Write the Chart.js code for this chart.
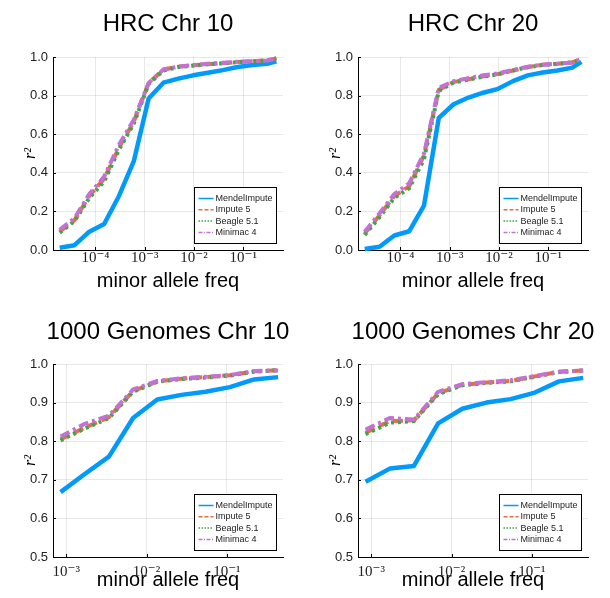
<!DOCTYPE html>
<html><head><meta charset="utf-8">
<script src="https://cdn.jsdelivr.net/npm/chart.js@4/dist/chart.umd.min.js"></script>
<style>
html,body{margin:0;padding:0;background:#fff;overflow:hidden;width:610px;height:598px;}
canvas{position:absolute;}
</style></head>
<body>
<canvas id="c1" width="305" height="299" style="left:0;top:0"></canvas>
<canvas id="c2" width="305" height="299" style="left:305px;top:0"></canvas>
<canvas id="c3" width="305" height="299" style="left:0;top:299px"></canvas>
<canvas id="c4" width="305" height="299" style="left:305px;top:299px"></canvas>
<script>
// ---------- data ----------
const seriesNames = ['MendelImpute', 'Impute 5', 'Beagle 5.1', 'Minimac 4'];
const panelTitles = ['HRC Chr 10', 'HRC Chr 20', '1000 Genomes Chr 10', '1000 Genomes Chr 20'];
const xLabel = 'minor allele freq';
const yLabel = 'r²';

const hrcMaf = [1.88e-5, 3.76e-5, 7.5e-5, 1.5e-4, 3.0e-4, 6.0e-4, 1.2e-3, 2.4e-3, 4.8e-3, 9.6e-3, 0.0192, 0.0384, 0.0768, 0.154, 0.307, 0.47];
const kgMaf = [8.5e-4, 1.7e-3, 3.4e-3, 6.8e-3, 0.0136, 0.0272, 0.0544, 0.109, 0.218, 0.435];

const hrc10Mendel  = [0.012, 0.025, 0.095, 0.135, 0.28, 0.46, 0.785, 0.867, 0.888, 0.905, 0.918, 0.932, 0.948, 0.958, 0.965, 0.978];
const hrc10Impute  = [0.095, 0.155, 0.28, 0.37, 0.53, 0.665, 0.865, 0.935, 0.95, 0.957, 0.963, 0.968, 0.974, 0.978, 0.983, 0.993];
const hrc10Beagle  = [0.09, 0.15, 0.27, 0.355, 0.52, 0.655, 0.86, 0.93, 0.948, 0.955, 0.962, 0.967, 0.973, 0.978, 0.982, 0.993];
const hrc10Minimac = [0.105, 0.165, 0.29, 0.38, 0.545, 0.675, 0.865, 0.935, 0.95, 0.958, 0.965, 0.97, 0.975, 0.978, 0.982, 0.99];

const hrc20Mendel  = [0.005, 0.017, 0.075, 0.097, 0.23, 0.685, 0.755, 0.79, 0.815, 0.835, 0.875, 0.905, 0.92, 0.93, 0.945, 0.975];
const hrc20Impute  = [0.085, 0.18, 0.28, 0.33, 0.49, 0.83, 0.87, 0.885, 0.9, 0.912, 0.93, 0.948, 0.96, 0.965, 0.972, 0.99];
const hrc20Beagle  = [0.078, 0.17, 0.27, 0.32, 0.47, 0.825, 0.868, 0.883, 0.898, 0.91, 0.93, 0.947, 0.958, 0.964, 0.972, 0.985];
const hrc20Minimac = [0.095, 0.19, 0.29, 0.345, 0.5, 0.84, 0.875, 0.89, 0.905, 0.915, 0.933, 0.95, 0.96, 0.965, 0.972, 0.99];

const kg10Mendel  = [0.668, 0.715, 0.76, 0.86, 0.908, 0.92, 0.928, 0.94, 0.96, 0.966];
const kg10Impute  = [0.805, 0.835, 0.862, 0.93, 0.955, 0.962, 0.966, 0.971, 0.981, 0.984];
const kg10Beagle  = [0.802, 0.833, 0.86, 0.928, 0.954, 0.961, 0.965, 0.97, 0.98, 0.984];
const kg10Minimac = [0.812, 0.845, 0.866, 0.934, 0.956, 0.963, 0.967, 0.971, 0.982, 0.983];

const kg20Mendel  = [0.695, 0.729, 0.736, 0.846, 0.884, 0.9, 0.909, 0.926, 0.955, 0.964];
const kg20Impute  = [0.822, 0.852, 0.854, 0.924, 0.946, 0.952, 0.956, 0.968, 0.98, 0.983];
const kg20Beagle  = [0.818, 0.848, 0.852, 0.922, 0.945, 0.951, 0.955, 0.967, 0.979, 0.983];
const kg20Minimac = [0.83, 0.86, 0.856, 0.928, 0.948, 0.953, 0.958, 0.969, 0.98, 0.983];

const hrcTicks = [1e-4, 1e-3, 1e-2, 1e-1];
const hrcTickLabels = ['10⁻⁴', '10⁻³', '10⁻²', '10⁻¹'];
const kgTicks = [1e-3, 1e-2, 1e-1];
const kgTickLabels = ['10⁻³', '10⁻²', '10⁻¹'];

// ---------- styles ----------
const STYLES = [
  {color: '#009AFA', width: 4.5, dash: [], legendDash: []},
  {color: '#E36F47', width: 4, dash: [10, 5], legendDash: [4, 2]},
  {color: '#3EA44E', width: 4, dash: [3, 4], legendDash: [1.5, 1.5]},
  {color: '#C371D2', width: 4, dash: [10, 4, 3, 4], legendDash: [4, 1.5, 1, 1.5]}
];

const legendPlugin = {
  id: 'boxLegend',
  afterDatasetsDraw(chart) {
    const a = chart.chartArea, ctx = chart.ctx;
    const w = 82, h = 56;
    const x0 = Math.round(a.right - 7 - w) + 0.5, y0 = Math.round(a.bottom - 7 - h) + 0.5;
    ctx.save();
    ctx.strokeStyle = '#000'; ctx.lineWidth = 1;
    const xs = chart.scales.x, ys = chart.scales.y;
    xs.ticks.forEach(t => {
      const px = Math.round(xs.getPixelForValue(t.value)) + 0.5;
      ctx.beginPath(); ctx.moveTo(px, a.bottom); ctx.lineTo(px, a.bottom - 3); ctx.stroke();
    });
    ys.ticks.forEach(t => {
      const py = Math.round(ys.getPixelForValue(t.value)) + 0.5;
      ctx.beginPath(); ctx.moveTo(a.left, py); ctx.lineTo(a.left + 3, py); ctx.stroke();
    });
    ctx.fillStyle = '#fff'; ctx.fillRect(x0, y0, w, h);
    ctx.strokeStyle = '#000'; ctx.lineWidth = 1; ctx.strokeRect(x0, y0, w, h);
    ctx.font = '9px "Liberation Sans", Arial, sans-serif';
    ctx.textBaseline = 'middle'; ctx.textAlign = 'left';
    seriesNames.forEach((name, i) => {
      const st = STYLES[i];
      const yy = y0 + 11 + i * 11.3;
      ctx.beginPath(); ctx.strokeStyle = st.color; ctx.lineWidth = 1.5; ctx.setLineDash(st.legendDash);
      ctx.moveTo(x0 + 4, yy); ctx.lineTo(x0 + 19, yy); ctx.stroke();
      ctx.setLineDash([]);
      ctx.fillStyle = '#222';
      ctx.fillText(name, x0 + 21, yy);
    });
    ctx.restore();
  }
};

const titleShift = {
  id: 'titleShift',
  afterLayout(chart) {
    const t = chart.titleBlock;
    if (!t) return;
    const c = (chart.chartArea.left + chart.chartArea.right) / 2;
    t.left = c - 150; t.right = c + 150; t.width = 300;
  }
};

function makeChart(id, title, xs, seriesVals, yMin, yMax, yStep, xMin, xMax, ticks, tickLabels, g) {
  const datasets = seriesVals.map((vals, i) => ({
    label: seriesNames[i],
    data: xs.map((x, j) => ({x: x, y: vals[j]})),
    borderColor: STYLES[i].color,
    backgroundColor: STYLES[i].color,
    borderWidth: STYLES[i].width,
    borderDash: STYLES[i].dash,
    borderCapStyle: 'butt',
    borderJoinStyle: 'round',
    pointRadius: 0,
    tension: 0,
    fill: false,
    clip: false,
    order: 4 - i
  }));
  return new Chart(document.getElementById(id), {
    type: 'line',
    data: {datasets},
    options: {
      responsive: false, animation: false, devicePixelRatio: 1,
      layout: {padding: {left: 0, right: 22, top: 0, bottom: 0}},
      plugins: {
        legend: {display: false},
        tooltip: {enabled: false},
        title: {
          display: true, text: title, color: '#000',
          font: {family: '"Liberation Sans", Arial, sans-serif', size: 24, weight: 'normal'},
          padding: {top: g.tTop, bottom: g.tBottom}
        }
      },
      scales: {
        x: {
          type: 'logarithmic', min: xMin, max: xMax,
          afterBuildTicks: (s) => { s.ticks = ticks.map(v => ({value: v})); },
          afterFit: (s) => { s.height = g.xh; },
          grid: {color: 'rgba(0,0,0,0.09)', lineWidth: 1, drawTicks: false},
          border: {display: true, color: '#000', width: 1},
          ticks: {
            autoSkip: false, maxRotation: 0, padding: g.xPad, color: '#222',
            font: {family: '"Liberation Serif", "DejaVu Serif", serif', size: 15},
            callback: (v, i) => tickLabels[i]
          },
          title: {
            display: true, text: xLabel, color: '#000',
            font: {family: '"Liberation Sans", Arial, sans-serif', size: 20},
            padding: {top: 0, bottom: 5.5}
          }
        },
        y: {
          min: yMin, max: yMax,
          afterFit: (s) => { s.width = 53; },
          grid: {color: 'rgba(0,0,0,0.09)', lineWidth: 1, drawTicks: false},
          border: {display: true, color: '#000', width: 1},
          ticks: {
            stepSize: yStep, padding: 5, color: '#222',
            font: {family: '"Liberation Sans", Arial, sans-serif', size: 13},
            callback: (v) => Number(v).toFixed(1)
          },
          title: {
            display: true, text: yLabel, color: '#000',
            font: {family: '"Liberation Serif", "DejaVu Serif", serif', size: 16, style: 'italic'},
            padding: {top: 21, bottom: 0}
          }
        }
      }
    },
    plugins: [legendPlugin, titleShift]
  });
}

const gTop = {tTop: 10, tBottom: 18.2, xh: 49, xPad: -1};
const gBot = {tTop: 19, tBottom: 17.2, xh: 41, xPad: 6};

makeChart('c1', panelTitles[0], hrcMaf, [hrc10Mendel, hrc10Impute, hrc10Beagle, hrc10Minimac], 0, 1, 0.2, 1.374e-5, 0.641, hrcTicks, hrcTickLabels, gTop);
makeChart('c2', panelTitles[1], hrcMaf, [hrc20Mendel, hrc20Impute, hrc20Beagle, hrc20Minimac], 0, 1, 0.2, 1.374e-5, 0.641, hrcTicks, hrcTickLabels, gTop);
makeChart('c3', panelTitles[2], kgMaf, [kg10Mendel, kg10Impute, kg10Beagle, kg10Minimac], 0.5, 1, 0.1, 6.84e-4, 0.5, kgTicks, kgTickLabels, gBot);
makeChart('c4', panelTitles[3], kgMaf, [kg20Mendel, kg20Impute, kg20Beagle, kg20Minimac], 0.5, 1, 0.1, 6.84e-4, 0.5, kgTicks, kgTickLabels, gBot);
</script>
</body></html>
